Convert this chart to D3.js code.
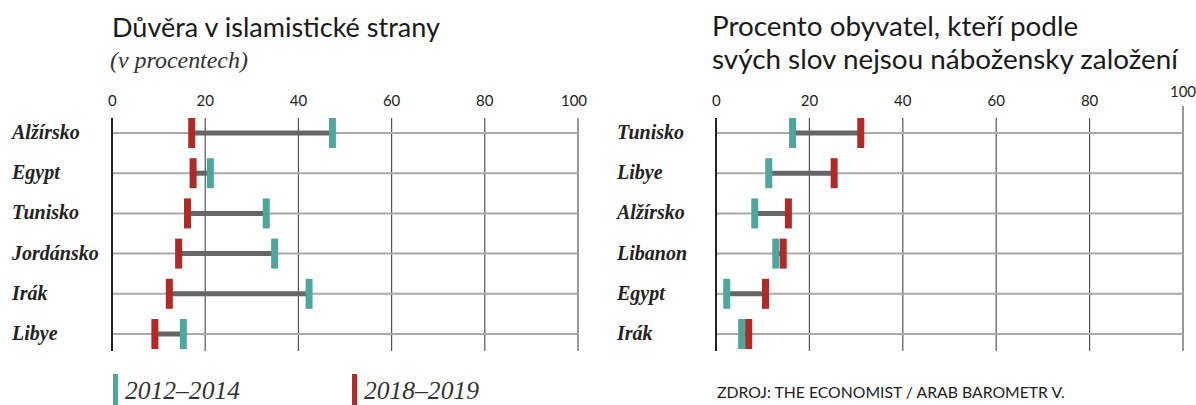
<!DOCTYPE html>
<html>
<head>
<meta charset="utf-8">
<script src="https://cdn.jsdelivr.net/npm/d3@7"></script>
<style>
  html, body { margin: 0; padding: 0; background: #ffffff; }
  svg { display: block; }
</style>
</head>
<body>
<svg id="chart" width="1196" height="405"></svg>
<script>
// data
const ticks = [0, 20, 40, 60, 80, 100];

const leftCountries = ["Alžírsko", "Egypt", "Tunisko", "Jordánsko", "Irák", "Libye"];
const leftEarly = [47.3, 21.1, 33.1, 34.9, 42.3, 15.3];   // 2012-2014
const leftLate = [17.1, 17.4, 16.2, 14.3, 12.3, 9.2];     // 2018-2019

const rightCountries = ["Tunisko", "Libye", "Alžírsko", "Libanon", "Egypt", "Irák"];
const rightEarly = [16.4, 11.3, 8.3, 12.8, 2.3, 5.5];
const rightLate = [31.0, 25.3, 15.5, 14.4, 10.6, 7.0];

const legendLabels = ["2012–2014", "2018–2019"];

// styles
const C = { early: '#4ea69d', late: '#b02a27', grid: '#555', row: '#aaa', link: '#666', text: '#222' };
const SANS = 'Lato, "Open Sans", sans-serif';
const SERIF = '"Liberation Serif", "DejaVu Serif", serif';

const svg = d3.select('#chart');

// 幅に合わせてフォントサイズを調整
function fitText(sel, width) {
  const w = sel.node().getComputedTextLength();
  const fs = parseFloat(sel.attr('font-size'));
  sel.attr('font-size', (fs * width / w).toFixed(2));
}

function panel(opt) {
  const x = d3.scaleLinear().domain([0, 100]).range(opt.xr);
  const y = d3.scalePoint().domain(opt.countries).range([133, 334]);
  const g = svg.append('g');

  // gridlines
  g.selectAll('line.grid').data(ticks.slice(1)).join('line')
    .attr('class', 'grid')
    .attr('x1', d => x(d)).attr('x2', d => x(d))
    .attr('y1', d => (opt.raise100 && d === 100) ? 106 : 118).attr('y2', 351)
    .attr('stroke', d => d === 100 ? '#999' : C.grid).attr('stroke-width', d => d === 100 ? 2 : 1.2);

  // row lines
  g.selectAll('line.row').data(opt.countries).join('line')
    .attr('x1', x(0)).attr('x2', x(100))
    .attr('y1', d => y(d)).attr('y2', d => y(d))
    .attr('stroke', C.row).attr('stroke-width', 2);

  // zero axis
  g.append('line')
    .attr('x1', x(0)).attr('x2', x(0)).attr('y1', 118).attr('y2', 351)
    .attr('stroke', '#222').attr('stroke-width', 2);

  // tick labels
  g.selectAll('text.tick').data(ticks).join('text')
    .attr('x', d => x(d))
    .attr('y', d => (opt.raise100 && d === 100) ? 97 : 106)
    .attr('text-anchor', d => d === 0 ? 'start' : 'middle')
    .attr('dx', d => d === 0 ? -4 : (d === 100 && !opt.raise100 ? -4 : 0))
    .attr('font-family', SANS).attr('font-size', 15).attr('fill', C.text)
    .text(d => d);

  // connectors
  g.selectAll('line.link').data(opt.countries).join('line')
    .attr('x1', (d, i) => x(opt.early[i])).attr('x2', (d, i) => x(opt.late[i]))
    .attr('y1', d => y(d)).attr('y2', d => y(d))
    .attr('stroke', C.link).attr('stroke-width', 5);

  // markers
  const mw = 7, mh = 30;
  g.selectAll('rect.early').data(opt.countries).join('rect')
    .attr('x', (d, i) => x(opt.early[i]) - mw / 2).attr('y', d => y(d) - mh / 2)
    .attr('width', mw).attr('height', mh).attr('fill', C.early);
  g.selectAll('rect.late').data(opt.countries).join('rect')
    .attr('x', (d, i) => x(opt.late[i]) - mw / 2).attr('y', d => y(d) - mh / 2)
    .attr('width', mw).attr('height', mh).attr('fill', C.late);

  // country labels
  g.selectAll('text.cty').data(opt.countries).join('text')
    .attr('x', opt.labelX).attr('y', d => y(d) + 6)
    .attr('font-family', SERIF).attr('font-weight', 'bold').attr('font-style', 'italic')
    .attr('font-size', 20).attr('fill', C.text)
    .text(d => d);

  return x;
}

const xl = panel({ xr: [112, 578], countries: leftCountries, early: leftEarly, late: leftLate, labelX: 12 });
const xr = panel({ xr: [716, 1183], countries: rightCountries, early: rightEarly, late: rightLate, labelX: 617, raise100: true });

// titles
const t1 = svg.append('text')
  .attr('x', 112).attr('y', 37)
  .attr('font-family', SANS).attr('font-size', 22).attr('fill', '#1a1a1a')
  .text('Důvěra v islamistické strany');
fitText(t1, 328);

const sub = svg.append('text')
  .attr('x', 110).attr('y', 68)
  .attr('font-family', SERIF).attr('font-style', 'italic').attr('font-size', 22).attr('fill', '#333')
  .text('(v procentech)');
fitText(sub, 138);

const t2b = svg.append('text')
  .attr('x', 712).attr('y', 69)
  .attr('font-family', SANS).attr('font-size', 22).attr('fill', '#1a1a1a')
  .text('svých slov nejsou nábožensky založení');
fitText(t2b, 466);
svg.append('text')
  .attr('x', 712).attr('y', 36)
  .attr('font-family', SANS).attr('font-size', t2b.attr('font-size')).attr('fill', '#1a1a1a')
  .text('Procento obyvatel, kteří podle');

// legend
const legX = [113, 352];
const leg = svg.append('g');
leg.selectAll('rect').data(legendLabels).join('rect')
  .attr('x', (d, i) => legX[i]).attr('y', 374).attr('width', 5).attr('height', 31)
  .attr('fill', (d, i) => i === 0 ? C.early : C.late);
leg.selectAll('text').data(legendLabels).join('text')
  .attr('x', (d, i) => legX[i] + 12).attr('y', 399)
  .attr('font-family', SERIF).attr('font-style', 'italic').attr('font-size', 22).attr('fill', '#333')
  .text(d => d)
  .each(function () { fitText(d3.select(this), 115); });

const src = svg.append('text')
  .attr('x', 717).attr('y', 398)
  .attr('font-family', SANS).attr('font-size', 12.5).attr('fill', '#222')
  .text('ZDROJ: THE ECONOMIST / ARAB BAROMETR V.');
fitText(src, 348);
</script>
</body>
</html>
